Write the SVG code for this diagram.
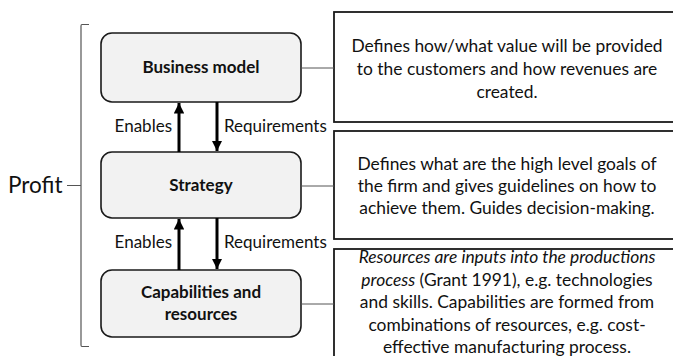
<svg xmlns="http://www.w3.org/2000/svg" width="673" height="356" viewBox="0 0 673 356">
  <defs>
    <marker id="head" viewBox="0 0 10 10" refX="10" refY="5" markerWidth="3.5" markerHeight="3.6" orient="auto">
      <path d="M0,0 L10,5 L0,10 z" fill="#000"/>
    </marker>
    <style>
      .node { fill: #f2f2f2; stroke: #1a1a1a; stroke-width: 1.6; }
      .note { fill: #fff; stroke: #1a1a1a; stroke-width: 1.8; }
      .lbl { font-family: Lato, "Open Sans", sans-serif; font-size: 17px; font-weight: bold; fill: #111; text-anchor: middle; }
      .txt { font-family: Lato, "Open Sans", sans-serif; font-size: 17.4px; fill: #111; text-anchor: middle; }
      .side { font-family: Lato, "Open Sans", sans-serif; font-size: 17px; fill: #111; }
      .arrow { stroke: #000; stroke-width: 3; fill: none; marker-end: url(#head); }
      .link { stroke: #555; stroke-width: 1; fill: none; }
      .brace { stroke: #555; stroke-width: 1.2; fill: none; }
    </style>
  </defs>

  <!-- bracket grouping the three layers under Profit -->
  <g id="profit">
    <text x="8" y="193" font-family="Lato, 'Open Sans', sans-serif" font-size="22.5px" fill="#111">Profit</text>
    <path class="brace" d="M89,24.5 L82,24.5 Q81,24.5 81,26 L81,345 Q81,346.5 82,346.5 L89,346.5 M67,185.5 L81,185.5"/>
  </g>

  <!-- layer boxes -->
  <g id="business-model">
    <rect class="node" x="101" y="33" width="200" height="69" rx="11"/>
    <text class="lbl" x="201" y="73">Business model</text>
  </g>
  <g id="strategy">
    <rect class="node" x="101" y="152" width="200" height="66" rx="11"/>
    <text class="lbl" x="201" y="191">Strategy</text>
  </g>
  <g id="capabilities">
    <rect class="node" x="101" y="270" width="200" height="67" rx="11"/>
    <text class="lbl" x="201" y="298">Capabilities and</text>
    <text class="lbl" x="201" y="320">resources</text>
  </g>

  <!-- description boxes -->
  <g id="note-business">
    <rect class="note" x="334" y="12" width="346" height="110"/>
    <text class="txt" x="507" y="52">Defines how/what value will be provided</text>
    <text class="txt" x="507" y="75">to the customers and how revenues are</text>
    <text class="txt" x="507" y="98">created.</text>
  </g>
  <g id="note-strategy">
    <rect class="note" x="334" y="131" width="346" height="108"/>
    <text class="txt" x="507" y="170">Defines what are the high level goals of</text>
    <text class="txt" x="507" y="192">the firm and gives guidelines on how to</text>
    <text class="txt" x="507" y="214">achieve them. Guides decision-making.</text>
  </g>
  <g id="note-capabilities">
    <rect class="note" x="334" y="249" width="346" height="120"/>
    <text class="txt" x="507" y="263" font-style="italic">Resources are inputs into the productions</text>
    <text class="txt" x="507" y="286"><tspan font-style="italic">process</tspan> (Grant 1991), e.g. technologies</text>
    <text class="txt" x="507" y="308">and skills. Capabilities are formed from</text>
    <text class="txt" x="507" y="331">combinations of resources, e.g. cost-</text>
    <text class="txt" x="507" y="353">effective manufacturing process.</text>
  </g>

  <!-- connectors -->
  <g id="connectors">
    <line class="arrow" x1="179" y1="152" x2="179" y2="103"/>
    <line class="arrow" x1="217" y1="102" x2="217" y2="151"/>
    <line class="arrow" x1="179" y1="270" x2="179" y2="219"/>
    <line class="arrow" x1="217" y1="218" x2="217" y2="269"/>
    <line class="link" x1="301" y1="68" x2="334" y2="68"/>
    <line class="link" x1="301" y1="186" x2="334" y2="186"/>
    <line class="link" x1="301" y1="304" x2="334" y2="304"/>
    <text class="side" x="172" y="132" text-anchor="end">Enables</text>
    <text class="side" x="224" y="132">Requirements</text>
    <text class="side" x="172" y="248" text-anchor="end">Enables</text>
    <text class="side" x="224" y="248">Requirements</text>
  </g>
</svg>
